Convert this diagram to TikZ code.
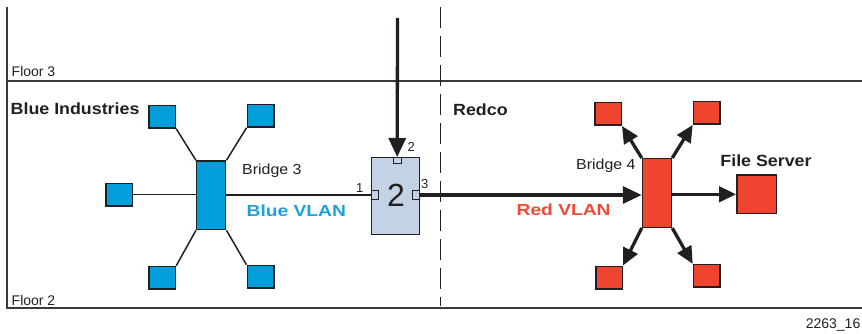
\documentclass[tikz,border=0pt]{standalone}
\usepackage{fontspec}
\setmainfont{Liberation Sans}
\newfontfamily\wideA[FakeStretch=1.1]{Liberation Sans}
\newfontfamily\wideB[FakeStretch=1.2]{Liberation Sans}
\usetikzlibrary{arrows.meta}
\definecolor{dark}{HTML}{231F20}
\definecolor{frameC}{HTML}{3A3A3A}
\definecolor{blueC}{HTML}{009FDA}
\definecolor{redC}{HTML}{EE4430}
\definecolor{boxC}{HTML}{C4D2E6}
\definecolor{blueT}{HTML}{1BA1DB}
\definecolor{redT}{HTML}{EE4B33}
\tikzset{
  frame/.style={draw=frameC, line width=2pt},
  divider/.style={draw=dark, line width=1.5pt, dash pattern=on 21pt off 8pt},
  sqbox/.style={draw=dark, line width=1.5pt, inner sep=0pt, minimum width=26.5pt, minimum height=22.5pt},
  bsq/.style={sqbox, fill=blueC},
  rsq/.style={sqbox, fill=redC},
  bridgebox/.style={draw=dark, line width=1.5pt, inner sep=0pt, minimum width=29pt, minimum height=68.5pt},
  switchbox/.style={draw=dark, line width=1.3pt, fill=boxC, inner sep=0pt, minimum width=47.7pt, minimum height=77pt},
  portbox/.style={draw=dark, line width=1pt, fill=boxC, inner sep=0pt},
  thinlink/.style={draw=dark, line width=1.5pt},
  thicklink/.style={draw=dark, line width=3.3pt},
  bigarrow/.style={thicklink, -{Triangle[length=19pt,width=17pt]}},
  midarrow/.style={thicklink, -{Triangle[length=17pt,width=15.5pt]}},
  lbl/.style={inner sep=0pt, text=dark},
  smalltxt/.style={lbl, font=\fontsize{14}{16}\selectfont},
  regtxt/.style={lbl, font=\wideA\fontsize{14.5}{17}\selectfont},
  headtxt/.style={lbl, font=\wideA\bfseries\fontsize{16.2}{19}\selectfont},
  vlantxt/.style={inner sep=0pt, font=\wideB\bfseries\fontsize{16}{19}\selectfont},
  porttxt/.style={lbl, font=\fontsize{13}{15}\selectfont}
}
\begin{document}
\begin{tikzpicture}[x=1pt,y=-1pt]
\useasboundingbox (0,0) rectangle (862,334);

% frame and floors
\draw[frame] (7,7) -- (7,308) -- (862,308);
\draw[frame] (7,81.5) -- (862,81.5);
\draw[divider] (440.7,7) -- (440.7,306);

\node[smalltxt, anchor=base west] (floor3) at (11.5,76.5) {Floor 3};
\node[smalltxt, anchor=base west] (floor2) at (11.5,305) {Floor 2};
\node[headtxt, anchor=base west] (blueind) at (10.5,115) {Blue Industries};
\node[headtxt, anchor=base west] (redco) at (453,116) {Redco};
\node[smalltxt, anchor=base east] (fig) at (860.5,328) {2263\_16};

% Blue side
\node[bridgebox, fill=blueC] (b3) at (211.2,195.3) {};
\node[bsq] (bTL) at (162.2,116.7) {};
\node[bsq] (bTR) at (260.5,115.8) {};
\node[bsq] (bL) at (119.2,194.5) {};
\node[bsq] (bBL) at (162.2,277.8) {};
\node[bsq] (bBR) at (260.5,276.8) {};
\draw[thinlink] (bTL.south east) -- (b3.north west);
\draw[thinlink] (bTR.south west) -- (b3.north east);
\draw[thinlink] (bL.east) -- (b3.west |- bL.east);
\draw[thinlink] (bBL.north east) -- (b3.south west);
\draw[thinlink] (bBR.north west) -- (b3.south east);
\node[regtxt, anchor=base west] (b3lbl) at (242,175) {Bridge 3};
\node[vlantxt, text=blueT, anchor=base west] (bvlan) at (246.5,216.7) {Blue VLAN};

% Switch 2
\node[switchbox] (sw) at (395.5,195.8) {};
\node[inner sep=0pt, font=\fontsize{32}{36}\selectfont, text=dark, anchor=base] (swnum) at (396,206) {2};
\node[portbox, minimum width=8pt, minimum height=6pt] (p2) at (397.2,160.5) {};
\node[portbox, minimum width=7pt, minimum height=9pt] (p1) at (375.2,195) {};
\node[portbox, minimum width=7pt, minimum height=9pt] (p3) at (415.8,195) {};
\node[porttxt, anchor=base west] (p1lbl) at (356,192) {1};
\node[porttxt, anchor=base west] (p2lbl) at (407.5,152) {2};
\node[porttxt, anchor=base west] (p3lbl) at (421,188.5) {3};
\draw[thinlink] (b3.east |- p1.west) -- (p1.west);

\coordinate (feed) at (397.5,18);
\draw[bigarrow] (feed) -- (p2.north);

% Red side
\node[bridgebox, fill=redC] (b4) at (657,193) {};
\node[rsq] (rTL) at (608,114) {};
\node[rsq] (rTR) at (706.7,112.9) {};
\node[rsq] (rBL) at (609,277.5) {};
\node[rsq] (rBR) at (706.7,275.8) {};
\node[sqbox, fill=redC, minimum width=39.5pt, minimum height=38.5pt] (fs) at (756.5,194.3) {};
\draw[bigarrow] (p3.east) -- (b4.west |- p3.east);
\draw[midarrow] (b4.east |- fs.west) -- (fs.west);
\draw[midarrow] (b4.north west) -- (rTL.south east);
\draw[midarrow] (b4.north east) -- (rTR.south west);
\draw[midarrow] (b4.south west) -- (rBL.north east);
\draw[midarrow] (b4.south east) -- (rBR.north west);
\node[regtxt, anchor=base west] (b4lbl) at (576,169) {Bridge 4};
\node[vlantxt, text=redT, anchor=base west] (rvlan) at (516.5,215) {Red VLAN};
\node[headtxt, anchor=base] (fslbl) at (766,166.7) {File Server};
\end{tikzpicture}
\end{document}
